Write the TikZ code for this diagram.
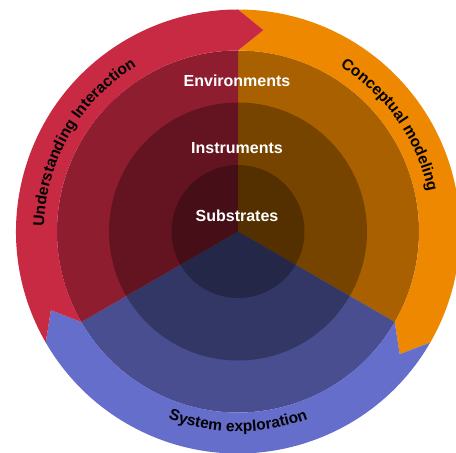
\documentclass[tikz,border=0pt]{standalone}
\usepackage{fontspec}
\setmainfont{Liberation Sans}
\usepackage{tikz}
\usetikzlibrary{decorations.text}

\definecolor{redc}{RGB}{201,42,67}
\definecolor{orangec}{RGB}{238,136,0}
\definecolor{bluec}{RGB}{102,110,204}
\newcommand{\ringfont}{\fontsize{15.5}{18}\selectfont\bfseries}

\begin{document}
\begin{tikzpicture}[x=1pt,y=1pt,
  darken/.style={fill=black,fill opacity=0.29},
  lbl/.style={text=white,font=\fontsize{16}{19}\selectfont\bfseries,anchor=base},
  ringtext/.style={decorate,decoration={text along path,text align=center,text={|\ringfont|#1}}}]
\newcommand{\rout}{222}
\newcommand{\renv}{181}
\newcommand{\rins}{129}
\newcommand{\rsub}{66.5}
\newcommand{\rtip}{203}
\newcommand{\dtip}{7.2}

\useasboundingbox (0,0) rectangle (456,453);
\begin{scope}[shift={(238,221.5)}]
% inner sectors, darkened towards the middle
\foreach \a/\col in {90/orangec,330/bluec,210/redc}
  \fill[\col] (0,0) -- (\a:\renv) arc[start angle=\a,end angle=\a-120,radius=\renv] -- cycle;
\foreach \r in {\renv,\rins,\rsub}
  \fill[darken] (0,0) circle[radius=\r];

% outer ring of arrows, running clockwise
\foreach \a/\col in {90/orangec,330/bluec,210/redc}
  \fill[\col] (\a:\rout) arc[start angle=\a,end angle=\a-120,radius=\rout]
    -- (\a-120-\dtip:\rtip) -- (\a-120:\renv)
    arc[start angle=\a-120,end angle=\a,radius=\renv]
    -- (\a-\dtip:\rtip) -- cycle;

\node[lbl] (env) at (-1,144.8) {Environments};
\node[lbl] (ins) at (-1,78.2) {Instruments};
\node[lbl] (sub) at (-1,9.8) {Substrates};

\path[ringtext={Understanding Interaction}] (210:194) arc[start angle=210,end angle=90,radius=194];
\path[ringtext={Conceptual modeling}] (95:194) arc[start angle=95,end angle=-25,radius=194];
\path[ringtext={System exploration}] (210:200) arc[start angle=210,end angle=330,radius=200];
\end{scope}
\end{tikzpicture}
\end{document}
